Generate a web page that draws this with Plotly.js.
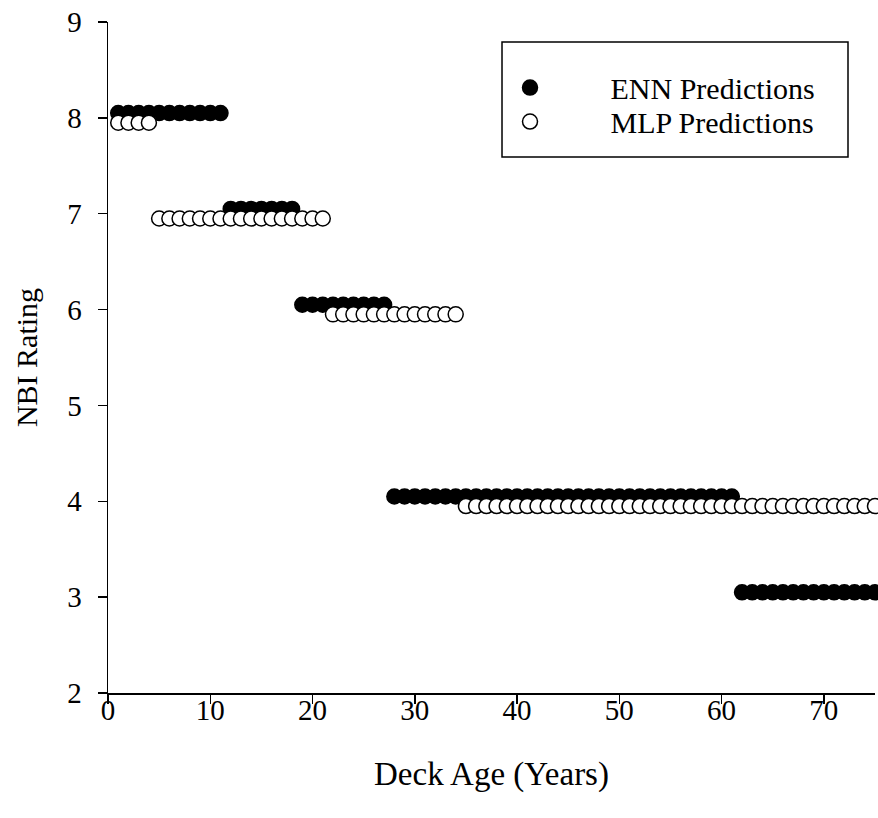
<!DOCTYPE html>
<html>
<head>
<meta charset="utf-8">
<script src="https://cdn.plot.ly/plotly-3.0.1.min.js"></script>
<style>body{margin:0;padding:0;background:#fff;}#chart{width:878px;height:818px;}</style>
</head>
<body>
<div id="chart"></div>
<script>
var ages = [1,2,3,4,5,6,7,8,9,10,11,12,13,14,15,16,17,18,19,20,21,22,23,24,25,26,27,28,29,30,31,32,33,34,35,36,37,38,39,40,41,42,43,44,45,46,47,48,49,50,51,52,53,54,55,56,57,58,59,60,61,62,63,64,65,66,67,68,69,70,71,72,73,74,75];
var ennRating = [8,8,8,8,8,8,8,8,8,8,8,7,7,7,7,7,7,7,6,6,6,6,6,6,6,6,6,4,4,4,4,4,4,4,4,4,4,4,4,4,4,4,4,4,4,4,4,4,4,4,4,4,4,4,4,4,4,4,4,4,4,3,3,3,3,3,3,3,3,3,3,3,3,3,3];
var mlpRating = [8,8,8,8,7,7,7,7,7,7,7,7,7,7,7,7,7,7,7,7,7,6,6,6,6,6,6,6,6,6,6,6,6,6,4,4,4,4,4,4,4,4,4,4,4,4,4,4,4,4,4,4,4,4,4,4,4,4,4,4,4,4,4,4,4,4,4,4,4,4,4,4,4,4,4];
var seriesNames = ["ENN Predictions", "MLP Predictions"];
var xTicks = [0,10,20,30,40,50,60,70];
var yTicks = [2,3,4,5,6,7,8,9];

// small vertical display offset so the two series do not fully overlap
var ennY = ennRating.map(function(v){return v + 0.05;});
var mlpY = mlpRating.map(function(v){return v - 0.05;});

var pad = "\u00A0\u00A0\u00A0\u00A0\u00A0\u00A0\u00A0";
var font = "Liberation Serif, Times New Roman, serif";
var legFont = {family: font, size: 30, color: "#000"};
var traces = [
  {x: ages, y: ennY, name: pad + seriesNames[0], mode: "markers", type: "scatter", cliponaxis: false,
   legend: "legend",
   marker: {symbol: "circle", size: 15, color: "#000", line: {color: "#000", width: 1.5}}},
  {x: ages, y: mlpY, name: pad + seriesNames[1], mode: "markers", type: "scatter", cliponaxis: false,
   legend: "legend2",
   marker: {symbol: "circle", size: 15, color: "#fff", line: {color: "#000", width: 1.5}}}
];
var layout = {
  width: 878, height: 818,
  margin: {l: 108, r: 3, t: 22, b: 125},
  paper_bgcolor: "#fff", plot_bgcolor: "#fff",
  font: {family: font, size: 29, color: "#000"},
  showlegend: true,
  legend: {x: 0.5137, y: 0.941, xanchor: "left", yanchor: "top", bgcolor: "rgba(0,0,0,0)",
           borderwidth: 0, font: legFont, itemwidth: 46},
  legend2: {x: 0.5137, y: 0.8904, xanchor: "left", yanchor: "top", bgcolor: "rgba(0,0,0,0)",
           borderwidth: 0, font: legFont, itemwidth: 46},
  shapes: [{type: "rect", xref: "paper", yref: "paper", x0: 0.5137, x1: 0.9648, y0: 0.7988, y1: 0.9702,
            line: {color: "#000", width: 1.5}, fillcolor: "rgba(0,0,0,0)", layer: "below"}],
  xaxis: {range: [0, 75], tickvals: xTicks, ticks: "outside", ticklen: 9, tickwidth: 1.5,
          tickcolor: "#000", showline: true, linecolor: "#000", linewidth: 1.5, showgrid: false,
          zeroline: false, tickfont: {size: 29}, ticklabelstandoff: -18,
          title: {text: "Deck Age (Years)", font: {size: 33}, standoff: 36}},
  yaxis: {range: [2, 9], tickvals: yTicks, ticks: "outside", ticklen: 9, tickwidth: 1.5,
          tickcolor: "#000", showline: true, linecolor: "#000", linewidth: 1.5, showgrid: false,
          zeroline: false, tickfont: {size: 29}, ticklabelstandoff: 10,
          title: {text: "NBI Rating", font: {size: 30}, standoff: 20}}
};
Plotly.newPlot("chart", traces, layout, {displayModeBar: false, staticPlot: true});
</script>
</body>
</html>
